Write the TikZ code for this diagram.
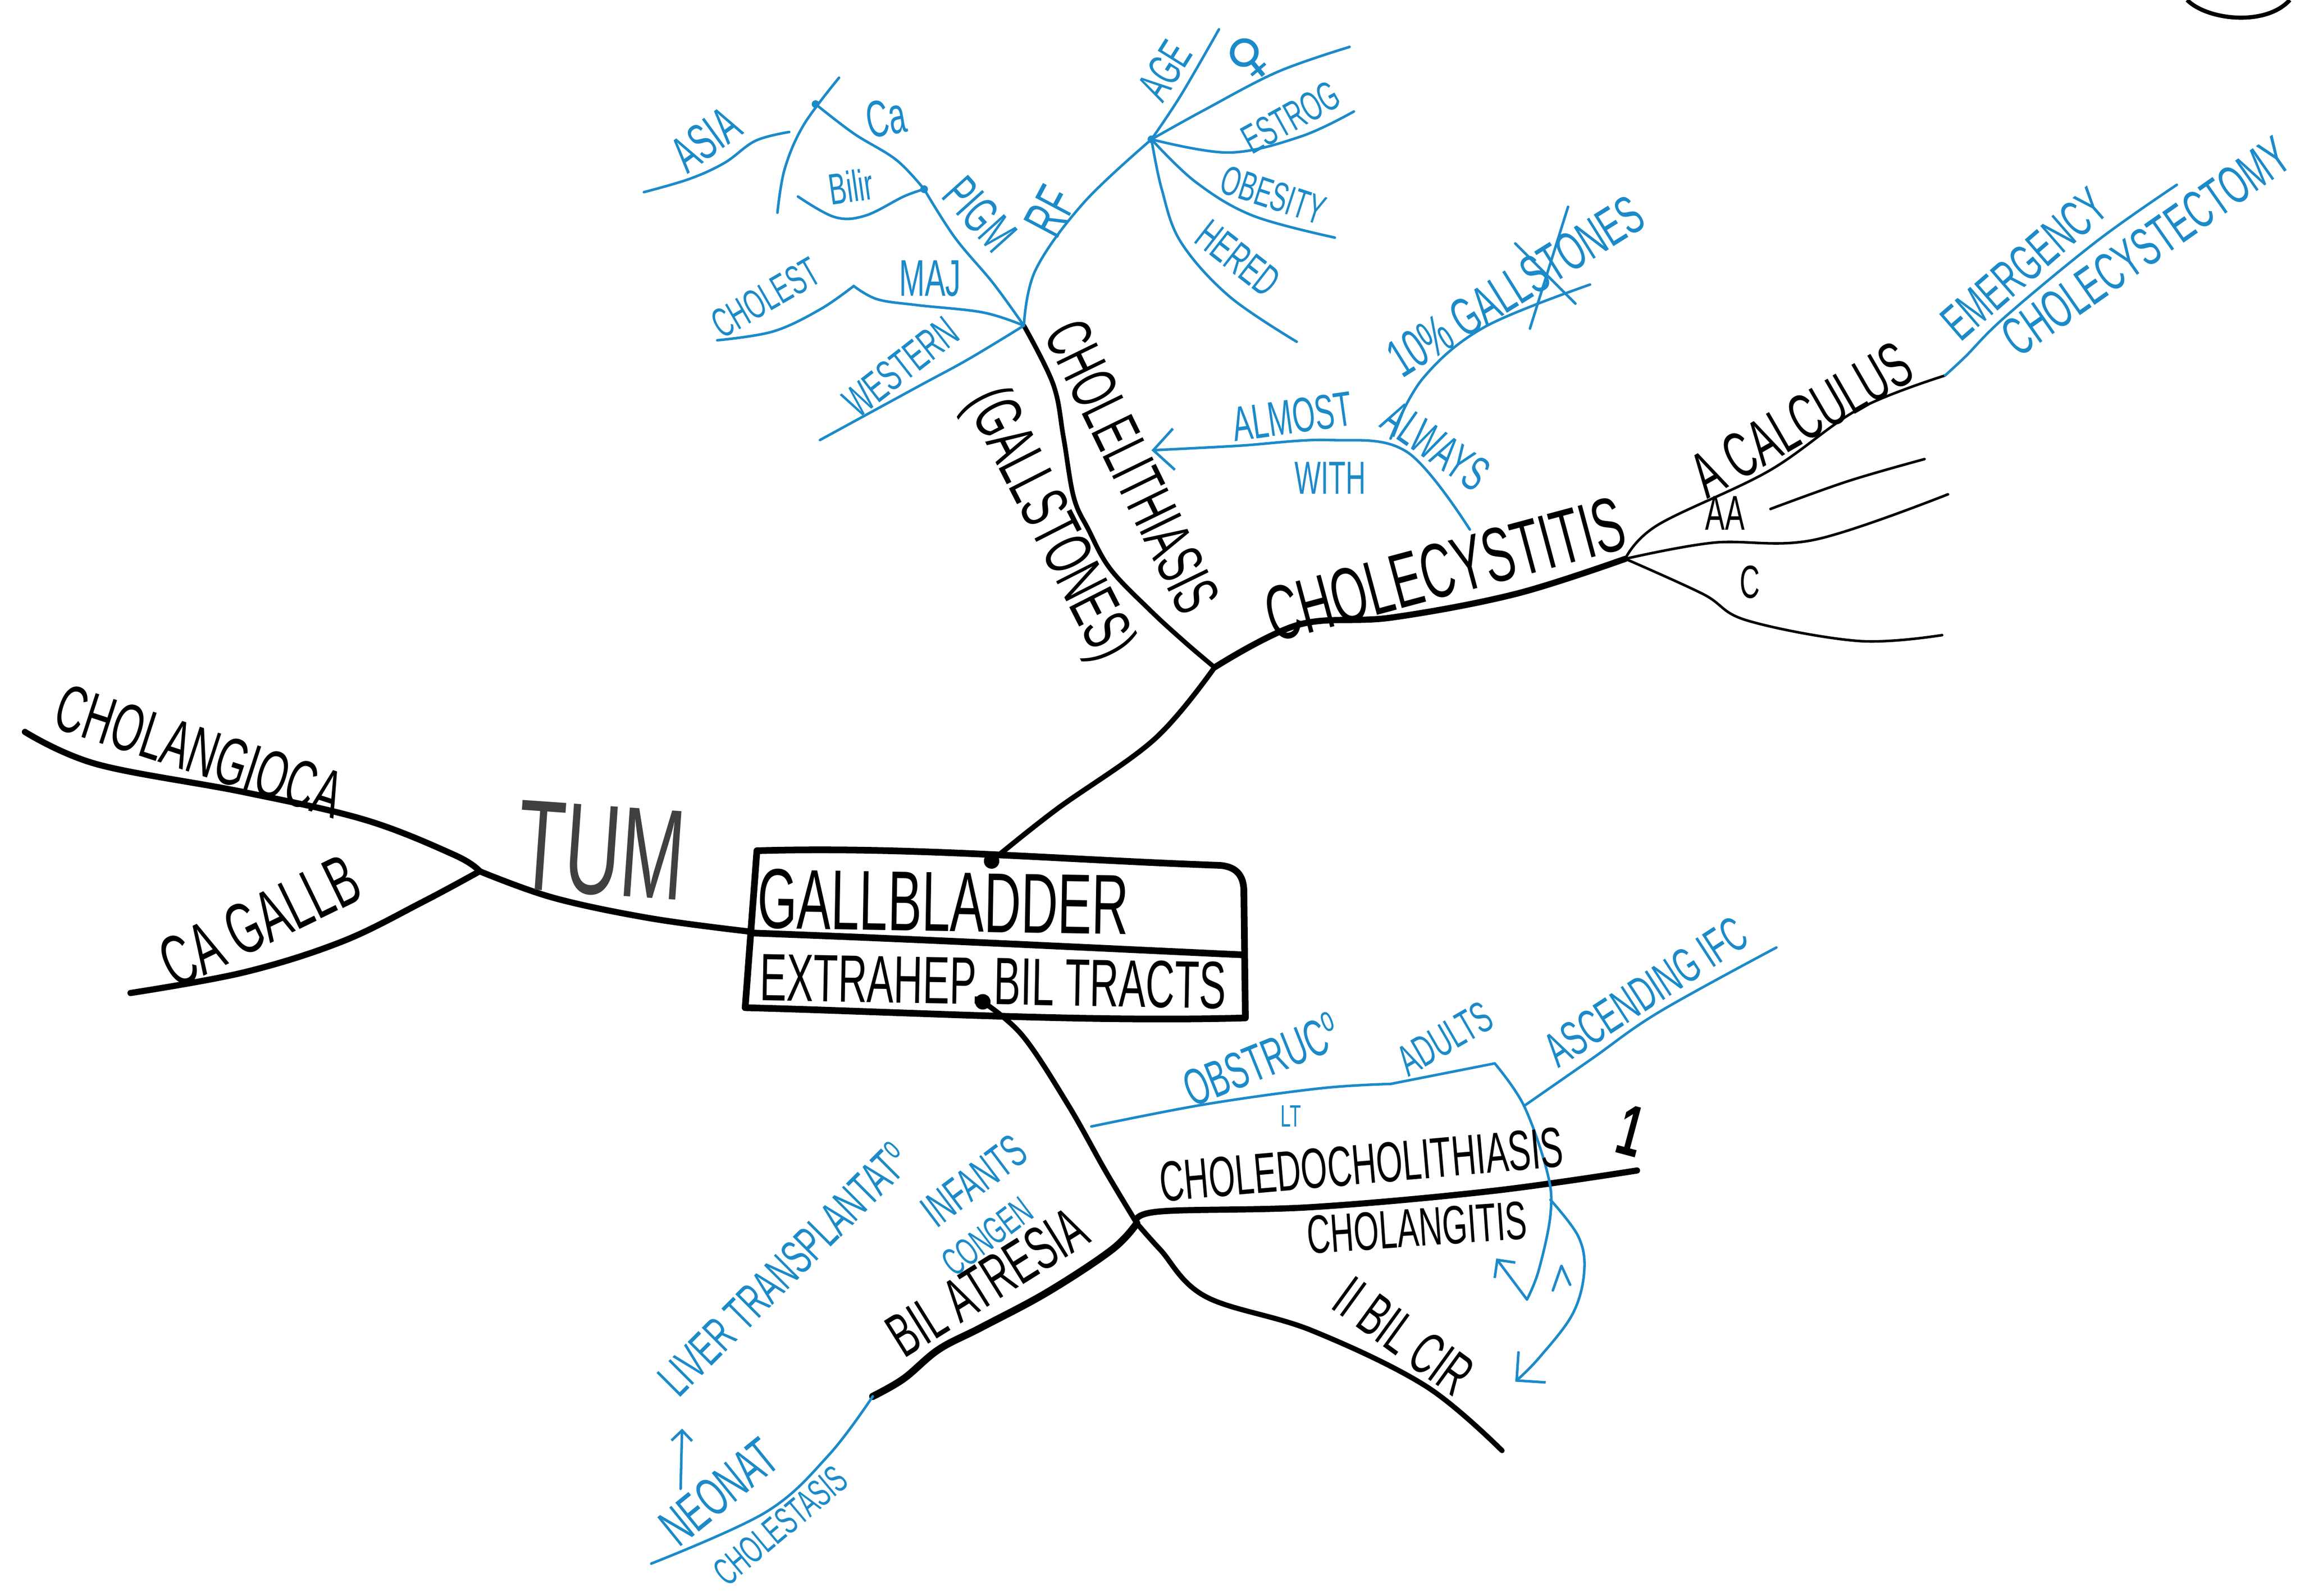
\documentclass[tikz,border=0pt]{standalone}
\usepackage{fontspec}
\newfontfamily\hand{Liberation Sans}[FakeStretch=0.6]
\newfontfamily\symb{DejaVu Sans}
\usetikzlibrary{arrows.meta}
\definecolor{ink}{RGB}{28,138,200}

\begin{document}
\begin{tikzpicture}[x=0.02cm, y=-0.02cm,
  trunk/.style={line width=2.4pt, line cap=round, line join=round},
  twig/.style={line width=1pt, line cap=round},
  frame/.style={line width=2.6pt, line join=round},
  pen/.style={draw=ink, line width=1pt, line cap=round, line join=round},
  hw/.style={font=\hand\fontsize{#1}{#1}\selectfont, inner sep=0pt},
  inkt/.style={text=ink}]
\useasboundingbox (0,0) rectangle (1568,1088);

\coordinate (boxtop) at (676,587);
\coordinate (boxbot) at (670,683);
\coordinate (boxleft) at (510,635);
\coordinate (j1) at (828,455);
\coordinate (j2) at (1108,381);
\coordinate (j3) at (327,594);
\coordinate (j4) at (775,834);
\coordinate (topb) at (698,222);
\coordinate (calcend) at (1326,256);
\coordinate (aastart) at (1207,347);
\coordinate (aaend) at (1312,313);
\coordinate (aaend2) at (1328,337);
\coordinate (cend) at (1324,433);
\coordinate (cgend) at (17,499);
\coordinate (cbend) at (89,677);
\coordinate (cdend) at (1116,798);
\coordinate (bcend) at (1024,989);
\coordinate (atend) at (595,952);
\coordinate (pj) at (630,129);
\coordinate (caend) at (556,71);
\coordinate (bilend) at (544,134);
\coordinate (asiatop) at (572,53);
\coordinate (asiabot) at (530,145);
\coordinate (asiaend) at (439,131);
\coordinate (asiaj) at (538,90);
\coordinate (majv) at (582,195);
\coordinate (cholend) at (489,232);
\coordinate (westend) at (559,300);
\coordinate (rfj) at (785,95);
\coordinate (ageend) at (831,20);
\coordinate (femend) at (920,32);
\coordinate (estend) at (923,76);
\coordinate (obend) at (910,162);
\coordinate (herend) at (884,233);
\coordinate (cystpt) at (1002,361);
\coordinate (lithpt) at (785,307);
\coordinate (tenstart) at (948,299);
\coordinate (tenend) at (1084,194);
\coordinate (emend) at (1484,126);
\coordinate (obstart) at (744,768);
\coordinate (obv) at (948,739);
\coordinate (obcorner) at (1019,725);
\coordinate (loopend) at (1020,858);
\coordinate (ascstart) at (1039,754);
\coordinate (ascend) at (1211,646);
\coordinate (bulgestart) at (1057,818);
\coordinate (bulgeend) at (1033,942);
\coordinate (neoend) at (444,1066);
\coordinate (uplow) at (464,1015);
\coordinate (uphigh) at (465,974);

\draw[frame] (516,580) .. controls (620,577) and (720,586) .. (832,590) .. controls (843,591) and (848,597) .. (848,608) -- (849,694) .. controls (740,697) and (620,690) .. (508,687) -- cycle;
\draw[frame] (510,636) .. controls (620,640) and (740,646) .. (848,651);
\fill (boxtop) circle (3pt);
\fill (boxbot) circle (3pt);

\draw[trunk, line width=2pt] plot[smooth, tension=.6] coordinates {(boxtop) (720,552) (787,504) (j1)};
\draw[trunk, line width=1.8pt] plot[smooth, tension=.6] coordinates {(j1) (808,438) (784,416) (757,388) (742,361) (732,339) (725,298) (718,262) (topb)};
\draw[trunk] plot[smooth, tension=.6] coordinates {(j1) (885,426) (949,421) (1033,405) (j2)};
\draw[twig] plot[smooth, tension=.6] coordinates {(j2) (1130,358) (1206,321) (1267,279) (calcend)};
\draw[twig] plot[smooth, tension=.6] coordinates {(aastart) (1260,328) (aaend)};
\draw[twig] plot[smooth, tension=.6] coordinates {(j2) (1168,370) (1237,368) (aaend2)};
\draw[twig] plot[smooth, tension=.6] coordinates {(j2) (1161,405) (1191,423) (1267,437) (cend)};
\draw[trunk] plot[smooth, tension=.6] coordinates {(boxleft) (443,626) (377,612) (j3)};
\draw[trunk] plot[smooth, tension=.6] coordinates {(j3) (310,583) (249,559) (166,540) (66,521) (cgend)};
\draw[trunk] plot[smooth, tension=.6] coordinates {(j3) (288,615) (233,642) (166,663) (cbend)};
\draw[trunk, line width=2pt] plot[smooth, tension=.6] coordinates {(boxbot) (697,706) (728,753) (754,799) (j4)};
\draw[trunk] plot[smooth, tension=.6] coordinates {(j4) (790,826) (894,823) (1017,812) (cdend)};
\draw[trunk, line width=2pt] plot[smooth, tension=.6] coordinates {(j4) (791,852) (822,884) (894,907) (972,945) (bcend)};
\draw[trunk, line width=2.8pt] plot[smooth, tension=.6] coordinates {(j4) (758,852) (714,881) (669,905) (640,920) (616,940) (atend)};
\draw[line width=1.6pt] (1491,0) .. controls (1505,14) and (1545,18) .. (1561,0);

\draw[pen] plot[smooth, tension=.6] coordinates {(topb) (677,193) (651,162) (pj)};
\draw[pen] plot[smooth, tension=.6] coordinates {(pj) (611,109) (582,91) (caend)};
\draw[pen] plot[smooth, tension=.6] coordinates {(pj) (616,134) (590,147) (569,148) (bilend)};
\draw[pen] plot[smooth, tension=.6] coordinates {(asiatop) (548,85) (535,115) (asiabot)};
\draw[pen] plot[smooth, tension=.6] coordinates {(asiaend) (470,122) (494,111) (515,96) (asiaj)};
\draw[pen] plot[smooth, tension=.6] coordinates {(topb) (670,213) (625,208) (598,204) (majv)};
\draw[pen] plot[smooth, tension=.6] coordinates {(majv) (559,211) (527,226) (cholend)};
\draw[pen] plot[smooth, tension=.6] coordinates {(topb) (660,245) (625,264) (westend)};
\draw[pen] plot[smooth, tension=.6] coordinates {(topb) (706,184) (739,138) (rfj)};
\draw[pen] plot[smooth, tension=.6] coordinates {(rfj) (805,65) (ageend)};
\draw[pen] plot[smooth, tension=.6] coordinates {(rfj) (821,75) (871,49) (femend)};
\draw[pen] plot[smooth, tension=.6] coordinates {(rfj) (838,104) (887,93) (estend)};
\draw[pen] plot[smooth, tension=.6] coordinates {(rfj) (815,124) (854,147) (obend)};
\draw[pen] plot[smooth, tension=.6] coordinates {(rfj) (792,129) (805,165) (838,202) (herend)};
\fill[ink] (pj) circle (1.5pt);
\fill[ink] (caend) circle (1.5pt);
\fill[ink] (rfj) circle (1.5pt);
\draw[pen, -{Straight Barb[length=8pt, width=16pt]}] plot[smooth, tension=.6] coordinates {(cystpt) (959,308) (906,300) (843,304) (lithpt)};
\draw[pen] plot[smooth, tension=.6] coordinates {(tenstart) (970,258) (1012,223) (tenend)};
\draw[pen] (1069,141) -- (1043,224);
\draw[pen] (1033,166) -- (1074,207);
\draw[pen] plot[smooth, tension=.6] coordinates {(calcend) (1340,243) (1367,216) (1430,164) (emend)};
\draw[pen] plot[smooth, tension=.6] coordinates {(obstart) (821,753) (900,742) (obv)} -- (obcorner);
\draw[pen, -{Straight Barb[length=5pt, width=10pt]}] plot[smooth, tension=.6] coordinates {(obcorner) (ascstart) (1055,800) (1057,828) (1049,866) (1041,886)} -- (loopend);
\draw[pen] plot[smooth, tension=.6] coordinates {(ascstart) (1085,722) (1131,690) (ascend)};
\draw[pen, -{Straight Barb[length=8pt, width=16pt]}] plot[smooth, tension=.6] coordinates {(bulgestart) (1076,843) (1080,867) (1072,896) (1049,926) (bulgeend)};
\draw[pen] (1058.6,879.8) -- (1064.5,863) -- (1070.4,875.9);
\draw[pen] plot[smooth, tension=.6] coordinates {(atend) (565,992) (522,1031) (neoend)};
\draw[pen, -{Straight Barb[length=4pt, width=8pt]}] (uplow) -- (uphigh);

\node[hw=33, rotate=-1] (gallbladder) at (643,615) {GALLBLADDER};
\node[hw=26, rotate=-1] (extrahep) at (677,669) {EXTRAHEP. BIL TRACTS};
\node[hw=25, rotate=-64] (lith) at (772,318) {CHOLELITHIASIS};
\node[hw=26, rotate=-63] (gallst) at (714,358) {(GALLSTONES)};
\node[hw=30, rotate=15] (cyst) at (985,388) {CHOLECYSTITIS};
\node[hw=25, rotate=30] (acalc) at (1228,286) {A CALCULUS};
\node[hw=19] (aa) at (1176,350) {AA};
\node[hw=18] (c) at (1193,397) {C};
\node[hw=50, rotate=-4, text=black!75] (tum) at (410,580) {TUM};
\node[hw=26, rotate=-18] (cholangioca) at (136,512) {CHOLANGIOCA};
\node[hw=28, rotate=26] (cagallb) at (177,628) {CA GALLB};
\node[hw=22, rotate=5] (choledocho) at (928,794) {CHOLEDOCHOLITHIASIS};
\node[hw=28, rotate=-15] (one) at (1112,771) {\bfseries 1};
\node[hw=21, rotate=4] (cholangitis) at (966,837) {CHOLANGITIS};
\node[hw=23, rotate=-36] (bilcir) at (957,911) {II BIL CIR};
\node[hw=24, rotate=32] (atresia) at (673,874) {BIL ATRESIA};

\node[hw=20, rotate=-48, inkt] (pigm) at (668,146) {PIGM};
\node[hw=22, rotate=62, inkt] (rf) at (716,144) {RF};
\node[hw=20, rotate=10, inkt] (ca) at (604,80) {Ca};
\node[hw=17, rotate=8, inkt] (bilir) at (580,127) {Bilir};
\node[hw=20, rotate=36, inkt] (asia) at (481,95) {ASIA};
\node[hw=20, inkt] (maj) at (634,190) {MAJ};
\node[hw=16, rotate=30, inkt] (cholest) at (522,203) {CHOLEST};
\node[hw=17, rotate=38, inkt] (western) at (614,250) {WESTERN};
\node[hw=18, rotate=58, inkt] (age) at (794,48) {AGE};
\node[hw=20, rotate=40, inkt] (female) at (852,40) {\symb ♀};
\node[hw=16, rotate=29, inkt] (estrog) at (880,80) {ESTROG};
\node[hw=16, rotate=-18, inkt] (obesity) at (868,133) {OBESITY};
\node[hw=17, rotate=-38, inkt] (hered) at (844,176) {HERED};
\node[hw=19, rotate=8, inkt] (almost) at (881,284) {ALMOST};
\node[hw=19, rotate=-35, inkt] (always) at (979,304) {ALWAYS};
\node[hw=18, inkt] (with) at (907,326) {WITH};
\node[hw=21, rotate=32, inkt] (tenpc) at (1033,195) {10\% GALLSTONES};
\node[hw=20, rotate=41, inkt] (emergency) at (1380,180) {EMERGENCY};
\node[hw=21, rotate=35, inkt] (ccx) at (1463,168) {CHOLECYSTECTOMY};
\node[hw=20, rotate=22, inkt] (obstruc) at (860,722) {OBSTRUC\textsuperscript{o}};
\node[hw=12, inkt] (lt) at (880,761) {LT};
\node[hw=17, rotate=30, inkt] (adults) at (985,708) {ADULTS};
\node[hw=19, rotate=33, inkt] (ascending) at (1122,676) {ASCENDING IFC};
\node[hw=18, rotate=37, inkt] (infants) at (664,805) {INFANTS};
\node[hw=15, rotate=37, inkt] (congen) at (673,843) {CONGEN};
\node[hw=19, rotate=45, inkt] (liver) at (535,865) {LIVER TRANSPLANTAT\textsuperscript{o}};
\node[hw=21, rotate=39, inkt] (neonat) at (490,1017) {NEONAT};
\node[hw=15, rotate=40, inkt] (cholestasis) at (532,1040) {CHOLESTASIS};
\end{tikzpicture}
\end{document}
